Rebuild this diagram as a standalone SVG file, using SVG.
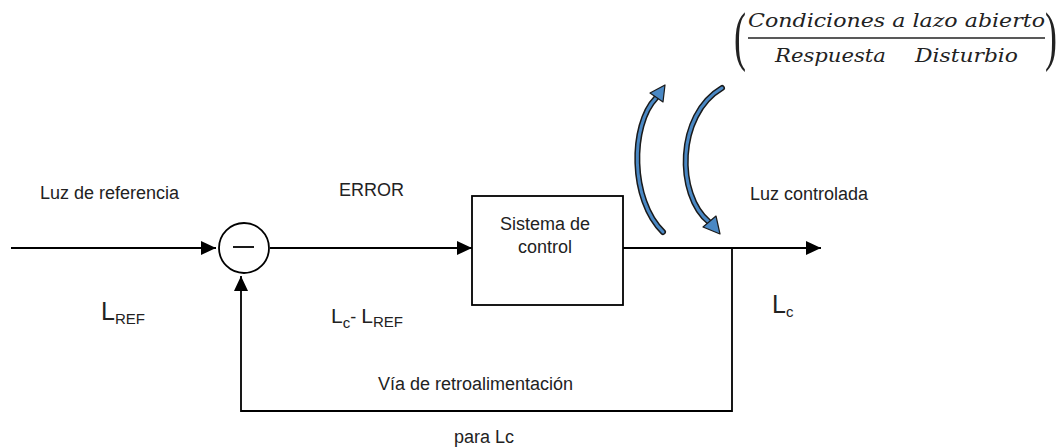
<svg xmlns="http://www.w3.org/2000/svg" width="1063" height="448" viewBox="0 0 1063 448">
  <style>
    .ln { fill: none; stroke: #000; stroke-width: 1.8; }
    .lbl { font-family: "Liberation Sans", Arial, sans-serif; fill: #222; font-size: 18px; }
    .big { font-size: 25px; }
    .sub { font-size: 15px; }
    .math { font-family: "DejaVu Serif", "Liberation Serif", serif; font-style: italic; font-size: 18px; fill: #222; }
    .paren { font-family: "Liberation Serif", serif; font-size: 36px; fill: #222; }
    .cbody { fill: none; stroke: #1a1a1a; stroke-width: 6; stroke-linecap: round; }
    .cfill { fill: none; stroke: #4a88c4; stroke-width: 3; stroke-linecap: round; }
    .chead { fill: #4a88c4; stroke: #1a1a1a; stroke-width: 1.2; stroke-linejoin: round; }
  </style>
  <defs>
    <marker id="arr" viewBox="0 0 15 14" refX="15" refY="7" markerWidth="15" markerHeight="14" markerUnits="userSpaceOnUse" orient="auto">
      <path d="M0,0 L15,7 L0,14 Z" fill="#000"/>
    </marker>
  </defs>
  <rect width="1063" height="448" fill="#fff"/>

  <g id="connectors">
    <line class="ln" x1="11" y1="248" x2="216" y2="248" marker-end="url(#arr)"/>
    <line class="ln" x1="270" y1="248" x2="472" y2="248" marker-end="url(#arr)"/>
    <line class="ln" x1="623" y1="248" x2="821" y2="248" marker-end="url(#arr)"/>
    <polyline class="ln" points="732,248 732,411 241,411 241,276" marker-end="url(#arr)"/>
  </g>

  <g id="sum">
    <circle cx="244" cy="248" r="25" fill="#fff" stroke="#000" stroke-width="1.8"/>
    <line x1="233" y1="247" x2="254" y2="247" stroke="#000" stroke-width="1.8"/>
  </g>

  <g id="sistema">
    <rect x="472" y="196" width="151" height="109" fill="#fff" stroke="#000" stroke-width="1.8"/>
    <text class="lbl" x="545" y="230" text-anchor="middle" font-size="16">Sistema de</text>
    <text class="lbl" x="545" y="253" text-anchor="middle" font-size="16">control</text>
  </g>

  <g id="disturbios">
    <path class="cbody" d="M663,232 C630,200 630,125 656,98"/>
    <path class="cfill" d="M663,232 C630,200 630,125 656,98"/>
    <polygon class="chead" points="665,85 663,102 650,93"/>
    <path class="cbody" d="M722,88 C676,115 676,195 709,222"/>
    <path class="cfill" d="M722,88 C676,115 676,195 709,222"/>
    <polygon class="chead" points="720,234 716,216 703,227"/>
  </g>

  <g id="labels">
    <text class="lbl" x="40" y="199">Luz de referencia</text>
    <text class="lbl" x="339" y="196">ERROR</text>
    <text class="lbl" x="750" y="200">Luz controlada</text>
    <text class="lbl" x="101" y="320"><tspan class="big">L</tspan><tspan class="sub" dy="4">REF</tspan></text>
    <text class="lbl" x="331" y="323"><tspan font-size="21">L</tspan><tspan class="sub" dy="5">c</tspan><tspan dy="-5">- </tspan><tspan font-size="21">L</tspan><tspan class="sub" dy="4">REF</tspan></text>
    <text class="lbl" x="772" y="313"><tspan class="big">L</tspan><tspan class="sub" dy="4">c</tspan></text>
    <text class="lbl" x="378" y="390">Vía de retroalimentación</text>
    <text class="lbl" x="454" y="443">para Lc</text>
  </g>

  <g id="formula">
    <text class="paren" transform="translate(734,58) scale(1,1.8)">(</text>
    <text class="paren" transform="translate(1045,58) scale(1,1.8)">)</text>
    <text class="math" x="748" y="27" textLength="297" lengthAdjust="spacingAndGlyphs">Condiciones a lazo abierto</text>
    <line x1="748" y1="38" x2="1045" y2="38" stroke="#222" stroke-width="1.3"/>
    <text class="math" x="775" y="62" textLength="111" lengthAdjust="spacingAndGlyphs">Respuesta</text>
    <text class="math" x="915" y="62" textLength="103" lengthAdjust="spacingAndGlyphs">Disturbio</text>
  </g>
</svg>
